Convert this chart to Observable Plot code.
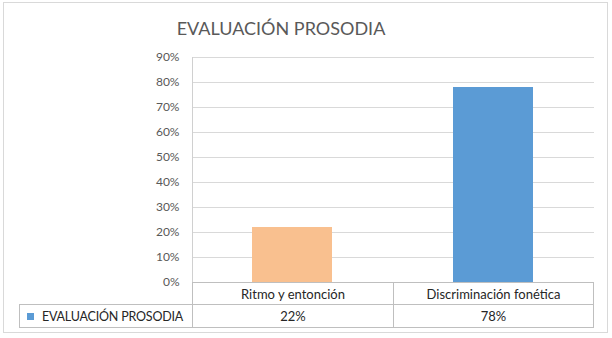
<!DOCTYPE html>
<html>
<head>
<meta charset="utf-8">
<script src="https://cdn.jsdelivr.net/npm/d3@7"></script>
<script src="https://cdn.jsdelivr.net/npm/@observablehq/plot@0.6"></script>
<style>
  html, body { margin: 0; padding: 0; background: #fff; }
  #chart { position: relative; width: 612px; height: 338px; overflow: hidden; font-family: Lato, "Open Sans", sans-serif; }
  #frame { position: absolute; left: 3px; top: 2px; width: 605px; height: 331px; box-sizing: border-box; border: 1px solid #d9d9d9; }
  #title { position: absolute; left: 0; width: 562px; top: 19px; text-align: center; font-size: 18px; line-height: 1; color: #595959; }
  #plot { position: absolute; left: 0; top: 0; }
  #datatable { position: absolute; left: 19px; top: 282px; border-collapse: collapse; font-size: 13px; color: #262626; table-layout: fixed; }
  #datatable td { border: 1px solid #bfbfbf; padding: 0; text-align: center; white-space: nowrap; overflow: hidden; }
  #datatable td.blank { border: none; }
  #datatable td.series { text-align: left; padding-left: 7px; }
  #datatable td.series .name { font-size: 12.5px; letter-spacing: -0.2px; }
  .key { display: inline-block; width: 7px; height: 7px; margin-right: 8px; vertical-align: 1px; }
</style>
</head>
<body>
<div id="chart">
  <div id="frame"></div>
  <div id="title"></div>
  <div id="plot"></div>
  <table id="datatable"></table>
</div>
<script>
const chartTitle = "EVALUACIÓN PROSODIA";
const seriesName = "EVALUACIÓN PROSODIA";
const categories = ["Ritmo y entonción", "Discriminación fonética"];
const values = [0.22, 0.78];
const yTicks = [0, 0.1, 0.2, 0.3, 0.4, 0.5, 0.6, 0.7, 0.8, 0.9];
const barColors = ["#f9c08f", "#5b9bd5"];
const seriesColor = "#5b9bd5";

const rows = categories.map((c, i) => ({category: c, value: values[i]}));
const pct = d3.format(".0%");

document.getElementById("title").textContent = chartTitle;

const plot = Plot.plot({
  width: 612,
  height: 290,
  marginLeft: 192,
  marginRight: 18,
  marginTop: 57,
  marginBottom: 8,
  style: {fontFamily: "Lato, 'Open Sans', sans-serif", fontSize: "12px", color: "#595959", background: "transparent"},
  x: {domain: categories, paddingInner: 0.6, paddingOuter: 0.3, axis: null},
  y: {domain: [0, 0.9], ticks: yTicks},
  color: {domain: categories, range: barColors},
  marks: [
    Plot.ruleY(yTicks.filter(t => t > 0), {stroke: "#d9d9d9", strokeOpacity: 1}),
    Plot.frame({anchor: "left", stroke: "#d0d0d0", strokeOpacity: 1}),
    Plot.axisY({ticks: yTicks, tickFormat: pct, tickSize: 0, tickPadding: 13, label: null, fill: "#595959"}),
    Plot.barY(rows, {x: "category", y: "value", fill: "category"}),
    Plot.ruleY([0], {stroke: "#bfbfbf", strokeOpacity: 1})
  ]
});
document.getElementById("plot").append(plot);

// data table under the plot: category header row, then the series row
const table = d3.select("#datatable");
const colgroup = table.append("colgroup");
colgroup.append("col").style("width", "173px");
colgroup.append("col").style("width", "201px");
colgroup.append("col").style("width", "200px");

const head = table.append("tr").style("height", "22px");
head.append("td").attr("class", "blank");
categories.forEach(c => head.append("td").text(c));

const body = table.append("tr").style("height", "23px");
const series = body.append("td").attr("class", "series");
series.append("span").attr("class", "key").style("background", seriesColor);
series.append("span").attr("class", "name").text(seriesName);
values.forEach(v => body.append("td").text(pct(v)));
</script>
</body>
</html>
